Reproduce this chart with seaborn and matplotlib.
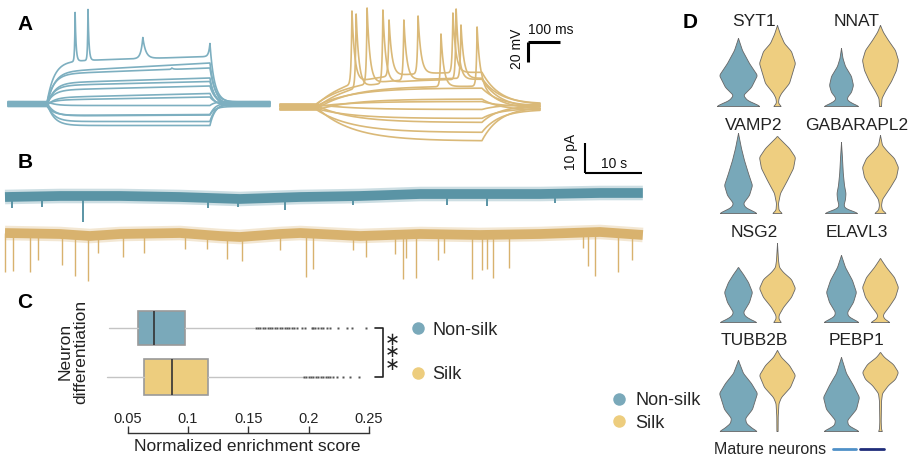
import numpy as np
import pandas as pd
import matplotlib
matplotlib.use("Agg")
import matplotlib.pyplot as plt
import seaborn as sns
from matplotlib.lines import Line2D
from matplotlib.legend_handler import HandlerTuple

sns.set_theme(style="white")
plt.rcParams["font.family"] = ["Liberation Sans", "DejaVu Sans"]

# ======================= DATA =======================
# ---- Panel A: current-clamp step responses (mV relative to rest, time in ms)
a_rest_nonsilk = -70.0
a_rest_silk = -72.0
a_nonsilk_on, a_nonsilk_off, a_nonsilk_end = 121.0, 626.0, 812.0
a_silk_on, a_silk_off, a_silk_end = 112.0, 626.0, 806.0
a_nonsilk_level_start = [41, 33, 28, 23, 18, 13, 8, 4, -4, -9, -13, -17, -22]
a_nonsilk_level_end = [46, 42, 34, 28, 22, 17, 12, 7, -4, -8, -12, -17, -22]
a_nonsilk_rest_offset = [1.5, -1.0, 2.0, -2.0, 0.5, 1.0, -1.5, 0.0, 2.5, -2.5, 1.0, -0.5, 0.5]
a_nonsilk_spike_sweep = [0, 0, 0, 0, 2]
a_nonsilk_spike_time = [208, 248, 418, 626, 508]
a_nonsilk_spike_peak = [90, 93, 65, 59, 34]
a_nonsilk_spike_rise = [1.5, 1.5, 6, 4, 3]
a_nonsilk_spike_decay = [3, 3, 9, 8, 5]

a_silk_level = [33, 29, 26, 23, 18, 11, 5, -5, -10, -17, -23, -34]
a_silk_rest_offset = [2.0, -1.0, 3.0, -2.0, 1.0, -3.0, 0.5, 2.5, -1.5, 1.5, -2.5, 0.0]
a_silk_spike_sweep = [0, 0, 0, 0, 1, 1, 1, 2, 2, 2, 3, 3]
a_silk_spike_time = [223, 338, 428, 536, 236, 319, 546, 270, 384, 561, 499, 611]
a_silk_spike_peak = [94, 85, 89, 92, 94, 98, 99, 96, 84, 79, 75, 82]

# ---- Panel B: spontaneous currents (pA, time in s)
b_teal_knot_t = [0, 9.65, 20.2, 30.7, 41.2, 51.8, 62.3, 72.8, 83.3, 93.9, 104.4, 111.9]
b_teal_knot_i = [-0.67, -0.33, -0.33, -0.67, -1.33, -0.67, -0.33, 0.33, 0.33, 0.33, 0.67, 0.67]
b_teal_event_t = [1.2, 6.5, 13.7, 35.6, 40.9, 49.1, 61.1, 77.5, 84.6, 96.5]
b_teal_event_amp = [3.7, 3.7, 8.7, 3.3, 2.7, 4.0, 3.0, 3.7, 4.0, 3.0]
b_silk_knot_t = [0, 9.65, 14.9, 20.2, 30.7, 37.7, 41.2, 48.2, 51.8, 62.3, 72.8, 83.3, 93.9, 104.4, 111.9]
b_silk_knot_i = [-12.67, -13, -13.67, -13, -12.67, -13.67, -14, -13, -12.67, -13.67, -13, -13.33, -13, -12.33, -13.33]
b_silk_event_t = [0.0, 1.4, 4.4, 5.8, 10.0, 12.3, 14.6, 16.3, 20.7, 24.4, 31.6, 35.4, 38.9, 41.6,
                  48.2, 52.8, 54.0, 61.1, 63.3, 68.4, 69.8, 70.4, 72.1, 76.0, 77.0, 81.9, 83.7,
                  84.6, 85.6, 88.4, 101.4, 102.3, 103.5, 107.5, 110.0]
b_silk_event_amp = [13.0, 12.7, 13.0, 8.7, 10.3, 13.7, 15.0, 6.0, 7.7, 6.3, 5.3, 4.7, 7.7, 8.0,
                    5.3, 14.7, 11.7, 4.7, 7.0, 6.3, 14.7, 8.0, 14.7, 8.7, 6.3, 14.7, 11.7,
                    11.3, 14.3, 11.0, 5.3, 11.3, 14.7, 13.0, 8.7]

# ---- Panel C: normalized enrichment score (box statistics)
c_groups = ["Non-silk", "Silk"]
c_whislo = [0.0345, 0.0329]
c_q1 = [0.0585, 0.0635]
c_med = [0.0718, 0.0867]
c_q3 = [0.0975, 0.1165]
c_whishi = [0.1547, 0.1954]
c_fliers_nonsilk = [0.156, 0.158, 0.160, 0.162, 0.164, 0.166, 0.168, 0.170, 0.172, 0.174, 0.176,
                    0.178, 0.180, 0.182, 0.184, 0.186, 0.188, 0.190, 0.1945, 0.197, 0.2025, 0.204,
                    0.2055, 0.208, 0.210, 0.2118, 0.215, 0.2177, 0.2243, 0.2318, 0.236, 0.2475]
c_fliers_silk = [0.196, 0.198, 0.200, 0.202, 0.204, 0.206, 0.208, 0.210, 0.212, 0.214, 0.216,
                 0.218, 0.220, 0.2235, 0.2284, 0.2342, 0.2417]
c_xticks = [0.05, 0.1, 0.15, 0.2, 0.25]
c_xticklabels = ["0.05", "0.1", "0.15", "0.2", "0.25"]

# ---- Panel D: violin outlines, (height, half-width) pairs
syt1_nonsilk = [(0, 22), (2, 18), (6, 9), (11, 5), (19, 13), (31, 19), (43, 11), (56, 4), (68, 0)]
syt1_silk = [(0, 4), (3, 1), (8, 1.5), (13, 4), (23, 12), (43, 18), (55, 14), (63, 7), (72, 3), (81, 0)]
nnat_nonsilk = [(0, 18), (2, 13), (6, 6), (9, 6), (14, 10), (21, 12), (30, 10), (40, 4), (48, 1.5), (58, 0)]
nnat_silk = [(0, 1), (8, 1.5), (15, 5), (25, 11), (36, 16), (46, 18), (56, 15), (66, 8), (74, 3), (81, 0)]
vamp2_nonsilk = [(0, 19), (2, 15), (6, 7), (10, 5), (18, 11), (28, 14), (40, 10), (53, 6), (65, 3), (80, 0)]
vamp2_silk = [(0, 5), (3, 1.5), (10, 1), (20, 3), (33, 10), (45, 16), (56, 18), (65, 12), (72, 5), (77, 0)]
gabarapl2_nonsilk = [(0, 17), (2, 12), (5, 4), (8, 2.5), (14, 4), (20, 4.5), (28, 3), (40, 1.8), (55, 1), (71, 0)]
gabarapl2_silk = [(0, 6), (3, 2), (8, 1), (14, 2), (26, 10), (36, 16), (46, 18), (55, 14), (62, 7), (68, 2), (78, 0)]
nsg2_nonsilk = [(0, 19), (2, 14), (6, 7), (10, 5), (20, 11), (30, 14), (40, 10), (48, 5), (55, 0)]
nsg2_silk = [(0, 4), (3, 1.5), (7, 1.5), (15, 6), (25, 14), (34, 18), (43, 14), (50, 6), (55, 2), (62, 1), (79, 0)]
elavl3_nonsilk = [(0, 18), (2, 14), (6, 7), (10, 6), (20, 12), (30, 15), (42, 11), (55, 4), (67, 0)]
elavl3_silk = [(0, 10), (2, 6), (5, 3), (8, 3), (16, 9), (25, 15), (35, 18), (45, 14), (55, 6), (64, 0)]
tubb2b_nonsilk = [(0, 19), (3, 14), (8, 8), (13, 7), (22, 14), (38, 19), (48, 13), (58, 5), (71, 0)]
tubb2b_silk = [(0, 0.6), (15, 0.7), (28, 1.5), (34, 4), (44, 13), (56, 18), (66, 12), (74, 4), (81, 0)]
pebp1_nonsilk = [(0, 18), (2, 14), (6, 7), (11, 6), (22, 15), (34, 18), (46, 12), (58, 5), (74, 0)]
pebp1_silk = [(0, 2), (2, 1), (10, 0.7), (30, 1), (38, 2), (46, 8), (52, 15), (59, 18), (67, 13), (74, 4), (79, 0)]
d_genes = ["SYT1", "NNAT", "VAMP2", "GABARAPL2", "NSG2", "ELAVL3", "TUBB2B", "PEBP1"]

# ======================= STYLE =======================
TEAL_A, GOLD_A = "#7dafc0", "#dab978"
TEAL_B, GOLD_B = "#5a94a5", "#d8b26e"
TEAL_C, GOLD_C = "#7aa9ba", "#edcd7e"
TEAL_D, GOLD_D = "#78a8b9", "#eece80"

W, H = 917, 459
fig = plt.figure(figsize=(W / 100, H / 100), dpi=100)


def px_axes(x0, y0, x1, y1):
    return fig.add_axes([x0 / W, 1 - y1 / H, (x1 - x0) / W, (y1 - y0) / H])


def step_trace(t, on, off, lvl0, lvl1, tau_on, tau_off):
    v = np.zeros_like(t)
    d = (t >= on) & (t < off)
    plateau = lvl0 + (lvl1 - lvl0) * (t[d] - on) / (off - on)
    v[d] = plateau * (1 - np.exp(-(t[d] - on) / tau_on))
    v_end = lvl1 * (1 - np.exp(-(off - on) / tau_on))
    a = t >= off
    v[a] = v_end * np.exp(-(t[a] - off) / tau_off)
    return v


def add_spike(t, v, ts, peak, rise, decay):
    base = np.interp(ts, t, v)
    dt = t - ts
    tau = np.where(dt < 0, rise, decay)
    return v + (peak - base) * np.exp(-np.abs(dt) / tau)


# ----------------- Panel A -----------------
axA1 = px_axes(0, 0, 275, 145)
t1 = np.arange(0, a_nonsilk_end + 0.25, 0.5)
rows = []
for i, (l0, l1) in enumerate(zip(a_nonsilk_level_start, a_nonsilk_level_end)):
    v = step_trace(t1, a_nonsilk_on, a_nonsilk_off, l0, l1, 22.0, 16.0)
    for s, ts, pk, r, dcy in zip(a_nonsilk_spike_sweep, a_nonsilk_spike_time, a_nonsilk_spike_peak,
                                  a_nonsilk_spike_rise, a_nonsilk_spike_decay):
        if s == i:
            v = add_spike(t1, v, ts, pk, r, dcy)
    v = v + a_rest_nonsilk + a_nonsilk_rest_offset[i]
    rows.append(pd.DataFrame({"t": t1, "v": v, "sweep": i}))
dfA1 = pd.concat(rows)
sns.lineplot(data=dfA1, x="t", y="v", units="sweep", estimator=None, color=TEAL_A,
             lw=1.2, ax=axA1, legend=False)
axA1.set_xlim(-8 * 3.1, (275 - 8) * 3.1)
axA1.set_ylim(a_rest_nonsilk - 41, a_rest_nonsilk + 104)
axA1.axis("off")

axA2 = px_axes(275, 0, 680, 145)
t2 = np.arange(0, a_silk_end + 0.25, 0.5)
rows = []
for i, lvl in enumerate(a_silk_level):
    v = step_trace(t2, a_silk_on, a_silk_off, lvl, lvl, 110.0, 55.0)
    for s, ts, pk in zip(a_silk_spike_sweep, a_silk_spike_time, a_silk_spike_peak):
        if s == i:
            v = add_spike(t2, v, ts, pk, 2.5, 9.0)
    v = v + a_rest_silk + a_silk_rest_offset[i]
    rows.append(pd.DataFrame({"t": t2, "v": v, "sweep": i}))
dfA2 = pd.concat(rows)
sns.lineplot(data=dfA2, x="t", y="v", units="sweep", estimator=None, color=GOLD_A,
             lw=1.2, ax=axA2, legend=False)
axA2.set_xlim(-5 * 3.1, 400 * 3.1)
axA2.set_ylim(a_rest_silk - 38, a_rest_silk + 107)
axA2.axis("off")
# scale bar: 100 ms, 20 mV
sb_t, sb_v = 769.0, -7.0
axA2.plot([sb_t, sb_t], [sb_v, sb_v - 20], color="black", lw=2.2, solid_capstyle="butt")
axA2.plot([sb_t - 1.5, sb_t + 100], [sb_v, sb_v], color="black", lw=2.2, solid_capstyle="butt")
axA2.text(sb_t, sb_v + 12, "100 ms", fontsize=10, ha="left", va="center", color="#111")
axA2.text(sb_t - 34, sb_v - 7, "20 mV", fontsize=10, rotation=90, ha="center", va="center", color="#111")

# ----------------- Panel B -----------------
axB = px_axes(0, 120, 660, 290)
for kt, ki, col in [(b_teal_knot_t, b_teal_knot_i, TEAL_B), (b_silk_knot_t, b_silk_knot_i, GOLD_B)]:
    sns.lineplot(x=kt, y=ki, color=col, lw=10.5, alpha=0.3, ax=axB, legend=False)
    sns.lineplot(x=kt, y=ki, color=col, lw=7, ax=axB, legend=False)
for line in axB.lines:
    line.set_solid_capstyle("butt")
tb = np.interp(b_teal_event_t, b_teal_knot_t, b_teal_knot_i)
axB.vlines(b_teal_event_t, tb, tb - np.array(b_teal_event_amp), color=TEAL_B, lw=1.4)
sb = np.interp(b_silk_event_t, b_silk_knot_t, b_silk_knot_i)
axB.vlines(b_silk_event_t, sb, sb - np.array(b_silk_event_amp), color=GOLD_B, lw=1.0)
axB.set_xlim(-5 / 5.7, 655 / 5.7)
axB.set_ylim((195 - 290) / 3, (195 - 120) / 3)
axB.axis("off")
bs_t, bs_i = 101.75, 7.33
axB.plot([bs_t, bs_t], [bs_i, bs_i + 10], color="black", lw=1.5, solid_capstyle="butt")
axB.plot([bs_t, bs_t + 10], [bs_i, bs_i], color="black", lw=1.5, solid_capstyle="butt")
axB.text(bs_t - 2.45, bs_i + 7, "10 pA", fontsize=10, rotation=90, ha="center", va="center", color="#111")
axB.text(bs_t + 5.1, bs_i + 3, "10 s", fontsize=10, ha="center", va="center", color="#111")

# ----------------- Panel C -----------------
axC = px_axes(100, 300, 400, 433)
stats = []
fl = [c_fliers_nonsilk, c_fliers_silk]
for k, g in enumerate(c_groups):
    stats.append(dict(label=g, whislo=c_whislo[k], q1=c_q1[k], med=c_med[k], q3=c_q3[k],
                      whishi=c_whishi[k], fliers=np.array(fl[k])))
bx_kw = dict(positions=[0, 1], widths=[0.7, 0.75], patch_artist=True, showcaps=False,
             boxprops=dict(edgecolor="#9a9a9a", linewidth=1.2),
             whiskerprops=dict(color="#c4c4c4", linewidth=1.0),
             medianprops=dict(color="#333333", linewidth=1.2),
             flierprops=dict(marker="s", markersize=1.8, markerfacecolor="#555555",
                             markeredgecolor="none", linestyle="none"))
try:
    res = axC.bxp(stats, orientation="horizontal", **bx_kw)
except TypeError:
    res = axC.bxp(stats, vert=False, **bx_kw)
for b, col in zip(res["boxes"], [TEAL_C, GOLD_C]):
    b.set_facecolor(col)
axC.set_xlim(0.02704, 0.2757)
axC.set_ylim(2.143, -0.571)
axC.set_xticks(c_xticks)
axC.set_xticklabels(c_xticklabels)
axC.set_yticks([])
for sp in ["left", "top", "right"]:
    axC.spines[sp].set_visible(False)
axC.spines["bottom"].set_bounds(0.05, 0.25)
axC.spines["bottom"].set_color("#333333")
axC.spines["bottom"].set_linewidth(1.0)
axC.tick_params(axis="x", bottom=True, direction="in", length=5, width=1.0, color="#333333",
                pad=-15, labelsize=10.5, labelcolor="#222222")
axC.set_xlabel("Normalized enrichment score", fontsize=12.5, color="#222222")
axC.xaxis.set_label_coords(0.49, -0.045)
axC.set_ylabel("Neuron\ndifferentiation", fontsize=12.5, color="#222222", linespacing=1.0)
axC.yaxis.set_label_coords(-0.04, 0.61)
# significance bracket
bx = 0.2616
axC.plot([0.2549, bx, bx, 0.2549], [0, 0, 1, 1], color="#222222", lw=1.2)
axC.text(0.2690, 0.5, "\u2217\n\u2217\n\u2217", fontsize=13, ha="center", va="center",
         linespacing=0.62, color="#222222", family=["DejaVu Sans"])

hnd = [Line2D([], [], marker="o", ls="", ms=9, mfc=TEAL_C, mec="none"),
       Line2D([], [], marker="o", ls="", ms=9, mfc=GOLD_C, mec="none")]
fig.legend(hnd, c_groups, loc="center left", bbox_to_anchor=(409 / W, 1 - 352.5 / H),
           frameon=False, fontsize=13, handlelength=1.0, handletextpad=0.3,
           labelspacing=1.55, borderpad=0, borderaxespad=0)
fig.legend(hnd, c_groups, loc="center left", bbox_to_anchor=(610 / W, 1 - 412 / H),
           frameon=False, fontsize=13, handlelength=1.0, handletextpad=0.4,
           labelspacing=0.3, borderpad=0, borderaxespad=0)

# ----------------- Panel D -----------------
profiles = {
    "SYT1": (syt1_nonsilk, syt1_silk), "NNAT": (nnat_nonsilk, nnat_silk),
    "VAMP2": (vamp2_nonsilk, vamp2_silk), "GABARAPL2": (gabarapl2_nonsilk, gabarapl2_silk),
    "NSG2": (nsg2_nonsilk, nsg2_silk), "ELAVL3": (elavl3_nonsilk, elavl3_silk),
    "TUBB2B": (tubb2b_nonsilk, tubb2b_silk), "PEBP1": (pebp1_nonsilk, pebp1_silk),
}


def outline(profile, step=0.5, win=7):
    hk = [p[0] for p in profile]
    wk = [p[1] for p in profile]
    h = np.arange(0, hk[-1] + step / 2, step)
    w = np.interp(h, hk, wk)
    wp = np.pad(w, win // 2, mode="edge")
    ws = np.convolve(wp, np.ones(win) / win, mode="valid")
    ws[-1] = 0
    return h, ws


row_bottom = [106, 213, 322, 431]
row_title_y = [0.93, 0.965, 0.99, 1.0]
col_left = [712, 815]
unit = 39.0
for gi, gene in enumerate(d_genes):
    r, c = divmod(gi, 2)
    ax = px_axes(col_left[c], row_bottom[r] - 86, col_left[c] + 91, row_bottom[r])
    for xpos, prof, col in zip([0, 1], profiles[gene], [TEAL_D, GOLD_D]):
        h, w = outline(prof)
        ax.fill_betweenx(h, xpos - w / unit, xpos + w / unit, facecolor=col,
                         edgecolor="#666666", linewidth=0.6)
    ax.set_xlim(-26 / unit, 1 + 26 / unit)
    ax.set_ylim(0, 86)
    ax.axis("off")
    ax.text(0.46, row_title_y[r], gene, transform=ax.transAxes, ha="center", va="baseline",
            fontsize=12.5, color="#222222")

mat1 = Line2D([], [], color="#4f90c8", lw=2)
mat2 = Line2D([], [], color="#1f2d7a", lw=2)
fig.legend([(mat1, mat2)], ["Mature neurons"], handler_map={tuple: HandlerTuple(ndivide=None, pad=0.25)},
           markerfirst=False, loc="center left", bbox_to_anchor=(714 / W, 1 - 450 / H),
           frameon=False, fontsize=11.5, handlelength=3.2, handletextpad=0.4,
           borderpad=0, borderaxespad=0)

# ----------------- Panel letters -----------------
for letter, x, y in [("A", 17, 30), ("B", 18, 168), ("C", 17, 308), ("D", 683, 28)]:
    fig.text(x / W, 1 - y / H, letter, fontsize=15, fontweight="bold", ha="left", va="baseline",
             color="black")

fig.savefig("out.png", dpi=100)
